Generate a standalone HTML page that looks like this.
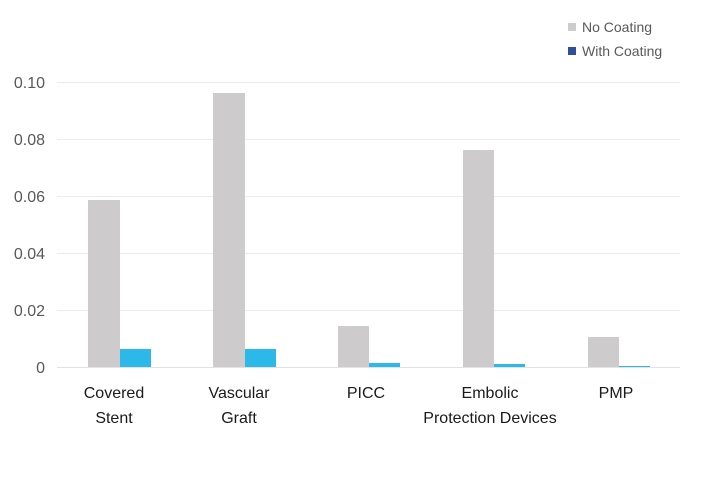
<!DOCTYPE html>
<html><head><style>body{margin:0;background:#fff}</style></head><body>
<svg width="713" height="481" xmlns="http://www.w3.org/2000/svg" font-family="Liberation Sans, sans-serif">
<rect width="713" height="481" fill="#fff"/>
<g stroke="#ececec" stroke-width="1">
<line x1="57" x2="680" y1="82.5" y2="82.5"/><line x1="57" x2="680" y1="139.5" y2="139.5"/>
<line x1="57" x2="680" y1="196.5" y2="196.5"/><line x1="57" x2="680" y1="253.5" y2="253.5"/>
<line x1="57" x2="680" y1="310.5" y2="310.5"/><line x1="57" x2="680" y1="367.5" y2="367.5" stroke="#e2e2e2"/>
</g>
<g fill="#595959" font-size="16" text-anchor="end">
<text x="45" y="88">0.10</text><text x="45" y="145">0.08</text><text x="45" y="202">0.06</text>
<text x="45" y="259">0.04</text><text x="45" y="316">0.02</text><text x="45" y="373">0</text>
</g>
<g fill="#cdcbcc">
<rect x="88" y="200" width="32" height="167"/><rect x="213" y="93" width="32" height="274"/>
<rect x="338" y="326" width="31" height="41"/><rect x="463" y="150" width="31" height="217"/>
<rect x="588" y="337" width="31" height="30"/>
</g>
<g fill="#2db8ea">
<rect x="120" y="349" width="31" height="18"/><rect x="245" y="349" width="31" height="18"/>
<rect x="369" y="363" width="31" height="4"/><rect x="494" y="364" width="31" height="3"/>
<rect x="619" y="366" width="31" height="1"/>
</g>
<g fill="#1a1a1a" font-size="16" text-anchor="middle">
<text x="114" y="398">Covered</text><text x="114" y="423">Stent</text>
<text x="239" y="398">Vascular</text><text x="239" y="423">Graft</text>
<text x="366" y="398">PICC</text>
<text x="490" y="398">Embolic</text><text x="490" y="423">Protection Devices</text>
<text x="616" y="398">PMP</text>
</g>
<rect x="568" y="23" width="8" height="8" fill="#cdcbcc"/>
<rect x="568" y="47" width="8" height="8" fill="#2e4f9a"/>
<g fill="#595959" font-size="14">
<text x="582" y="32">No Coating</text><text x="582" y="56">With Coating</text>
</g>
</svg>
</body></html>
